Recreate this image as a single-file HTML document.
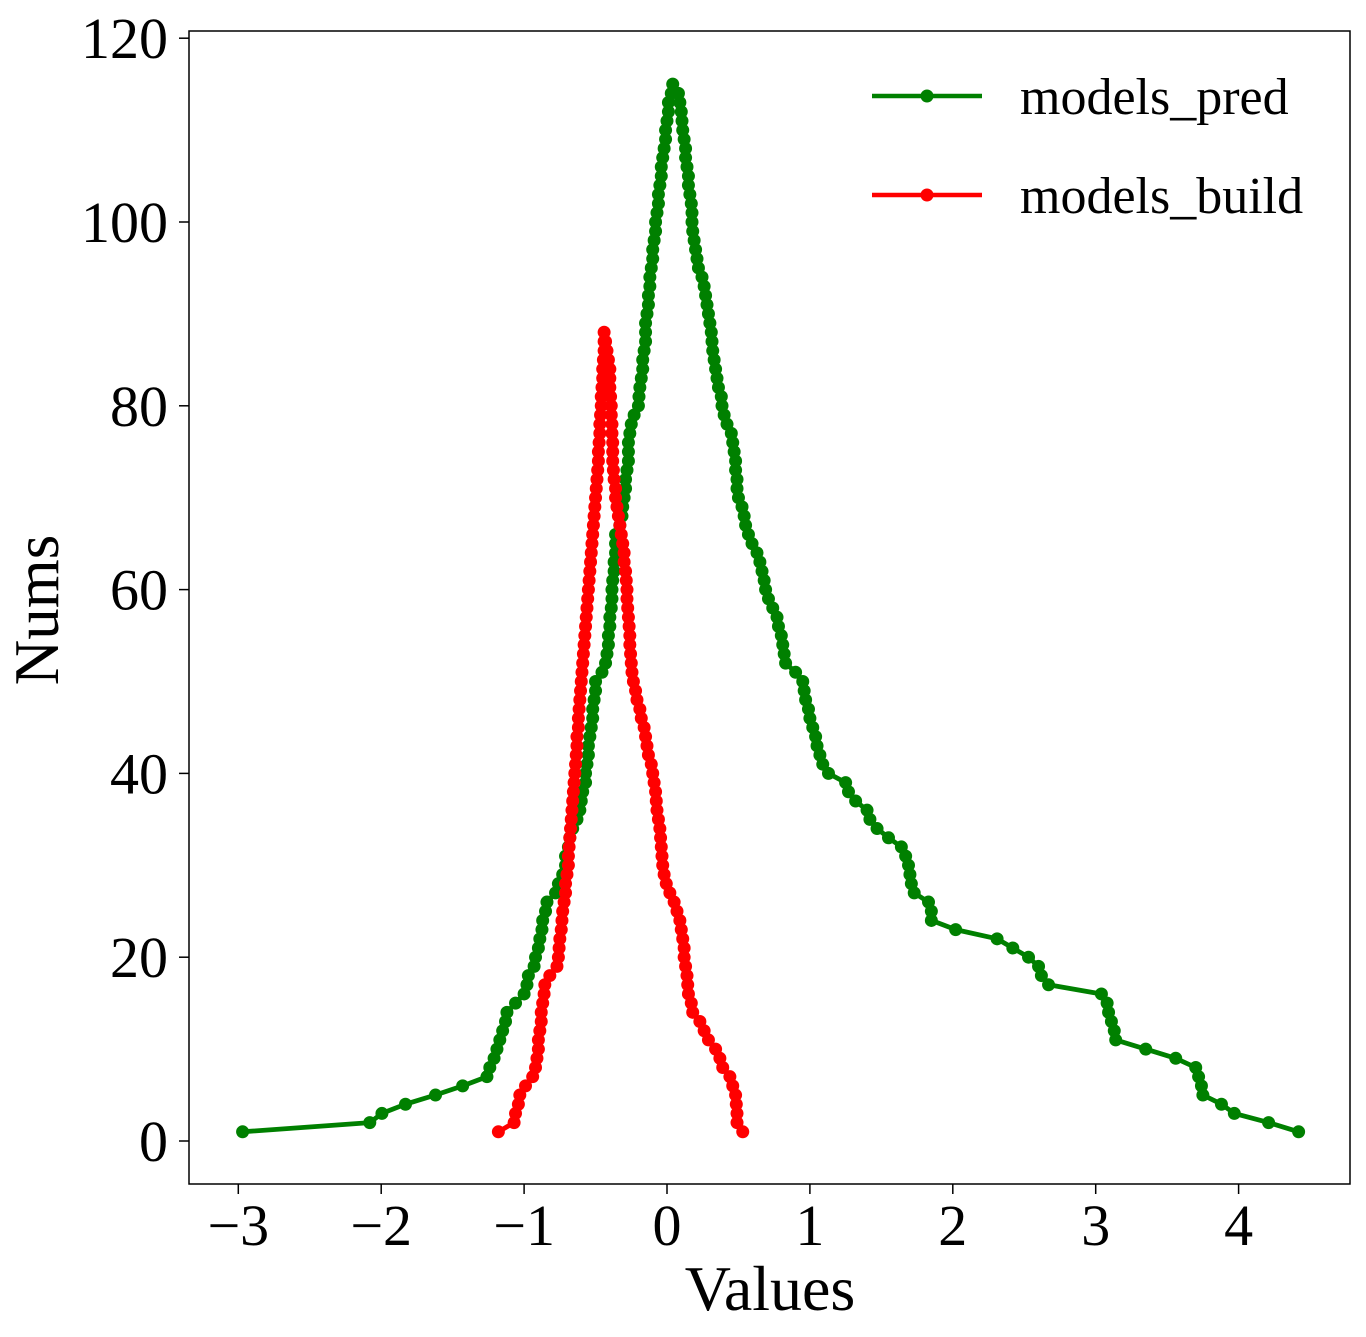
<!DOCTYPE html>
<html><head><meta charset="utf-8"><style>
html,body{margin:0;padding:0;background:#fff;}
svg{display:block;font-family:"Liberation Serif",serif;}
</style></head><body>
<svg id="chart" width="1366" height="1337" viewBox="0 0 1366 1337">
<rect x="0" y="0" width="1366" height="1337" fill="#fff"/>
<g id="plot"></g>
<rect x="189" y="31" width="1161" height="1153" fill="none" stroke="#000" stroke-width="1.5"/>
<g id="xticks"></g>
<g id="yticks"></g>
<text x="770" y="1310" font-size="64" text-anchor="middle">Values</text>
<text x="0" y="0" font-size="63" text-anchor="middle" transform="translate(58,610) rotate(-90)">Nums</text>
<g>
 <g>
  <line x1="872" y1="96" x2="982" y2="96" stroke="green" stroke-width="4.5"/>
  <circle cx="927" cy="96" r="6.5" fill="green"/>
  <text x="1020" y="114" font-size="52">models_pred</text>
 </g>
 <g>
  <line x1="872" y1="195" x2="982" y2="195" stroke="red" stroke-width="4.5"/>
  <circle cx="927" cy="195" r="6.5" fill="red"/>
  <text x="1020" y="213" font-size="52">models_build</text>
 </g>
</g>
</svg>
<script>
const xTicks=[-3,-2,-1,0,1,2,3,4];
const yTicks=[0,20,40,60,80,100,120];
const greenX=[-2.97,-2.08,-1.995,-1.83,-1.62,-1.43,-1.26,-1.24,-1.21,-1.19,-1.17,-1.15,-1.13,-1.12,-1.06,-1.00,-0.98,-0.97,-0.93,-0.92,-0.90,-0.89,-0.875,-0.87,-0.85,-0.84,-0.78,-0.76,-0.73,-0.71,-0.71,-0.69,-0.68,-0.66,-0.63,-0.61,-0.60,-0.59,-0.57,-0.57,-0.56,-0.55,-0.55,-0.54,-0.53,-0.52,-0.52,-0.51,-0.50,-0.50,-0.455,-0.43,-0.42,-0.41,-0.41,-0.40,-0.40,-0.39,-0.385,-0.385,-0.38,-0.37,-0.37,-0.36,-0.36,-0.36,-0.33,-0.315,-0.31,-0.30,-0.29,-0.29,-0.28,-0.27,-0.27,-0.27,-0.26,-0.25,-0.23,-0.20,-0.196,-0.19,-0.18,-0.17,-0.17,-0.16,-0.15,-0.15,-0.15,-0.14,-0.13,-0.13,-0.12,-0.12,-0.11,-0.10,-0.10,-0.09,-0.08,-0.08,-0.07,-0.06,-0.06,-0.05,-0.04,-0.04,-0.03,-0.02,-0.01,-0.01,0.00,0.01,0.01,0.03,0.04,
0.08,0.09,0.10,0.105,0.11,0.12,0.13,0.13,0.14,0.15,0.15,0.16,0.17,0.175,0.175,0.18,0.19,0.20,0.21,0.22,0.245,0.26,0.27,0.28,0.29,0.30,0.31,0.315,0.32,0.33,0.34,0.35,0.36,0.38,0.385,0.40,0.42,0.45,0.46,0.47,0.48,0.48,0.49,0.49,0.50,0.525,0.54,0.55,0.57,0.595,0.63,0.65,0.665,0.68,0.69,0.71,0.74,0.77,0.78,0.80,0.81,0.82,0.83,0.90,0.95,0.96,0.97,0.99,1.00,1.02,1.04,1.05,1.07,1.09,1.13,1.25,1.27,1.32,1.40,1.42,1.47,1.55,1.64,1.67,1.69,1.70,1.71,1.73,1.83,1.85,1.85,2.02,2.31,2.42,2.53,2.60,2.62,2.67,3.04,3.08,3.09,3.11,3.13,3.14,3.35,3.56,3.70,3.72,3.74,3.75,3.88,3.97,4.21,4.42];
const greenY=[1,2,3,4,5,6,7,8,9,10,11,12,13,14,15,16,17,18,19,20,21,22,23,24,25,26,27,28,29,30,31,32,33,34,35,36,37,38,39,40,41,42,43,44,45,46,47,48,49,50,51,52,53,54,55,56,57,58,59,60,61,62,63,64,65,66,67,68,69,70,71,72,73,74,75,76,77,78,79,80,81,82,83,84,85,86,87,88,89,90,91,92,93,94,95,96,97,98,99,100,101,102,103,104,105,106,107,108,109,110,111,112,113,114,115,
114,113,112,111,110,109,108,107,106,105,104,103,102,101,100,99,98,97,96,95,94,93,92,91,90,89,88,87,86,85,84,83,82,81,80,79,78,77,76,75,74,73,72,71,70,69,68,67,66,65,64,63,62,61,60,59,58,57,56,55,54,53,52,51,50,49,48,47,46,45,44,43,42,41,40,39,38,37,36,35,34,33,32,31,30,29,28,27,26,25,24,23,22,21,20,19,18,17,16,15,14,13,12,11,10,9,8,7,6,5,4,3,2,1];
const redX=[-1.18,-1.07,-1.06,-1.04,-1.03,-0.99,-0.94,-0.92,-0.91,-0.90,-0.90,-0.89,-0.88,-0.88,-0.87,-0.86,-0.855,-0.82,-0.77,-0.76,-0.755,-0.75,-0.74,-0.735,-0.73,-0.72,-0.71,-0.71,-0.70,-0.69,-0.69,-0.685,-0.68,-0.675,-0.67,-0.665,-0.66,-0.655,-0.65,-0.645,-0.64,-0.635,-0.63,-0.63,-0.62,-0.62,-0.615,-0.61,-0.605,-0.60,-0.595,-0.59,-0.585,-0.58,-0.575,-0.57,-0.565,-0.56,-0.555,-0.55,-0.545,-0.54,-0.535,-0.53,-0.525,-0.52,-0.515,-0.51,-0.505,-0.50,-0.495,-0.49,-0.485,-0.48,-0.48,-0.475,-0.47,-0.47,-0.465,-0.46,-0.46,-0.455,-0.45,-0.45,-0.445,-0.44,-0.44,-0.44,
-0.43,-0.42,-0.41,-0.40,-0.40,-0.40,-0.395,-0.39,-0.39,-0.385,-0.385,-0.38,-0.38,-0.38,-0.375,-0.37,-0.36,-0.36,-0.35,-0.34,-0.33,-0.32,-0.31,-0.30,-0.30,-0.29,-0.285,-0.28,-0.28,-0.275,-0.27,-0.265,-0.26,-0.26,-0.255,-0.25,-0.245,-0.235,-0.22,-0.21,-0.19,-0.18,-0.16,-0.15,-0.14,-0.13,-0.11,-0.10,-0.09,-0.08,-0.075,-0.07,-0.06,-0.05,-0.045,-0.04,-0.035,-0.03,-0.02,-0.005,0.02,0.05,0.07,0.09,0.10,0.11,0.12,0.12,0.13,0.14,0.145,0.15,0.17,0.18,0.23,0.26,0.29,0.34,0.37,0.39,0.44,0.46,0.48,0.485,0.49,0.49,0.53];
const redY=[1,2,3,4,5,6,7,8,9,10,11,12,13,14,15,16,17,18,19,20,21,22,23,24,25,26,27,28,29,30,31,32,33,34,35,36,37,38,39,40,41,42,43,44,45,46,47,48,49,50,51,52,53,54,55,56,57,58,59,60,61,62,63,64,65,66,67,68,69,70,71,72,73,74,75,76,77,78,79,80,81,82,83,84,85,86,87,88,
87,86,85,84,83,82,81,80,79,78,77,76,75,74,73,72,71,70,69,68,67,66,65,64,63,62,61,60,59,58,57,56,55,54,53,52,51,50,49,48,47,46,45,44,43,42,41,40,39,38,37,36,35,34,33,32,31,30,29,28,27,26,25,24,23,22,21,20,19,18,17,16,15,14,13,12,11,10,9,8,7,6,5,4,3,2,1];

const NS='http://www.w3.org/2000/svg';
function sx(v){return 667+v*142.9;}
function sy(v){return 1141-v*9.19;}
function mk(tag,attrs,parent){const e=document.createElementNS(NS,tag);for(const k in attrs)e.setAttribute(k,attrs[k]);parent.appendChild(e);return e;}

const xg=document.getElementById('xticks');
xTicks.forEach(t=>{
  const l=mk('line',{x1:sx(t),x2:sx(t),y1:1184,y2:1194,stroke:'#000','stroke-width':1.5},xg);
  
  
  const tx=mk('text',{x:sx(t),y:1245,'font-size':58,'text-anchor':'middle'},xg);
  tx.textContent=t<0?'\u2212'+Math.abs(t):String(t);
  
  
});
const yg=document.getElementById('yticks');
yTicks.forEach(t=>{
  const l=mk('line',{x1:179,x2:189,y1:sy(t),y2:sy(t),stroke:'#000','stroke-width':1.5},yg);
  
  
  const tx=mk('text',{x:168,y:sy(t)+20,'font-size':58,'text-anchor':'end'},yg);
  tx.textContent=String(t);
  
  
});
const pg=document.getElementById('plot');
function series(xs,ys,color,name){
  const g=mk('g',{},pg);
  
  
  const pts=xs.map((x,i)=>sx(x).toFixed(1)+','+sy(ys[i]).toFixed(1)).join(' ');
  const pl=mk('polyline',{points:pts,fill:'none',stroke:color,'stroke-width':4.8,'stroke-linejoin':'round'},g);
  
  
  xs.forEach((x,i)=>{
    const c=mk('circle',{cx:sx(x),cy:sy(ys[i]),r:6.5,fill:color},g);
    
    
  });
}
series(greenX,greenY,'green','models-pred-series');
series(redX,redY,'red','models-build-series');
</script>
</body></html>
